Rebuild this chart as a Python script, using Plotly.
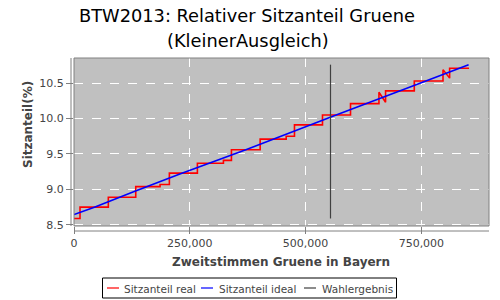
import plotly.graph_objects as go

# Sitzanteil real (step line)
real_x = [0, 13000, 13000, 74100, 74100, 133300, 133300, 185800, 185800, 205900, 205900,
          266400, 266400, 322600, 322600, 339900, 339900, 401900, 401900, 458100, 458100,
          476000, 476000, 536500, 536500, 597000, 597000, 658400, 658400, 672700, 672700,
          734700, 734700, 796700, 796700, 811000, 811000, 852900]
real_y = [8.59, 8.59, 8.75, 8.75, 8.89, 8.89, 9.04, 9.04, 9.07, 9.07, 9.23,
          9.23, 9.37, 9.37, 9.41, 9.41, 9.56, 9.56, 9.71, 9.71, 9.75,
          9.75, 9.91, 9.91, 10.05, 10.05, 10.21, 10.21, 10.37, 10.23, 10.39,
          10.39, 10.53, 10.53, 10.69, 10.57, 10.71, 10.71]

# Sitzanteil ideal
ideal_x = [0, 44000, 130000, 230000, 371000, 430000, 566000, 700000, 800000, 852000]
ideal_y = [8.646, 8.75, 8.97, 9.22, 9.56, 9.71, 10.05, 10.38, 10.63, 10.76]

# Wahlergebnis
wahl_x = [553800, 553800]
wahl_y = [8.59, 10.76]

x_ticks = [0, 250000, 500000, 750000]
y_ticks = [8.5, 9.0, 9.5, 10.0, 10.5]

series_names = ["Sitzanteil real", "Sitzanteil ideal", "Wahlergebnis"]
series_colors = ["#ff0000", "#0000ff", "#404040"]

W, H = 500, 300
L, R, T, B = 74, 11, 58, 74
PW, PH = W - L - R, H - T - B

def px(x):
    return (x - L) / PW

def py(y):
    return (H - B - y) / PH

fig = go.Figure()
fig.add_trace(go.Scatter(x=real_x, y=real_y, mode="lines", name=series_names[0],
                         line=dict(color=series_colors[0], width=1.6)))
fig.add_trace(go.Scatter(x=ideal_x, y=ideal_y, mode="lines", name=series_names[1],
                         line=dict(color=series_colors[1], width=1.6)))
fig.add_trace(go.Scatter(x=wahl_x, y=wahl_y, mode="lines", name=series_names[2],
                         line=dict(color=series_colors[2], width=1.2)))

grid = dict(showgrid=True, gridcolor="#ffffff", griddash="dash", gridwidth=1,
            zeroline=False, showline=False, ticks="outside", ticklen=7,
            tickcolor="#808080", tickfont=dict(family="DejaVu Sans", size=11, color="#444444"))

fig.update_xaxes(range=[0, 896000], tickvals=x_ticks, tickformat=",", **grid)
fig.update_yaxes(range=[8.484, 10.854], tickvals=y_ticks, tickformat=".1f", **grid)

shapes = [
    dict(type="rect", xref="paper", yref="paper", x0=0, x1=1, y0=0, y1=1,
         line=dict(color="#808080", width=1), layer="above"),
    dict(type="line", xref="paper", yref="paper", x0=0, x1=1, y0=-5 / PH, y1=-5 / PH,
         line=dict(color="#808080", width=1)),
    dict(type="line", xref="paper", yref="paper", x0=-3 / PW, x1=-3 / PW, y0=0, y1=1,
         line=dict(color="#808080", width=1)),
    # legend box
    dict(type="rect", xref="paper", yref="paper", x0=px(102.5), x1=px(396.5),
         y0=py(298), y1=py(278), line=dict(color="#000000", width=1),
         fillcolor="#ffffff"),
]

annotations = [
    dict(text="BTW2013: Relativer Sitzanteil Gruene", xref="paper", yref="paper",
         x=px(246.5), y=py(15.5), xanchor="center", yanchor="middle", showarrow=False,
         font=dict(family="DejaVu Sans", size=17.8, color="#000000")),
    dict(text="(KleinerAusgleich)", xref="paper", yref="paper",
         x=px(248), y=py(40.5), xanchor="center", yanchor="middle", showarrow=False,
         font=dict(family="DejaVu Sans", size=17.8, color="#000000")),
    dict(text="<b>Zweitstimmen Gruene in Bayern</b>", xref="paper", yref="paper",
         x=px(280.5), y=py(262), xanchor="center", yanchor="middle", showarrow=False,
         font=dict(family="DejaVu Sans", size=12, color="#444444")),
    dict(text="<b>Sitzanteil(%)</b>", xref="paper", yref="paper", textangle=-90,
         x=px(28), y=py(125), xanchor="center", yanchor="middle", showarrow=False,
         font=dict(family="DejaVu Sans", size=12, color="#444444")),
]

# legend entries (line sample + label)
leg_line_x = [107, 201, 304]
leg_text_x = [122, 216.5, 319.5]
for name, color, lx, tx in zip(series_names, series_colors, leg_line_x, leg_text_x):
    shapes.append(dict(type="line", xref="paper", yref="paper", x0=px(lx), x1=px(lx + 12),
                       y0=py(288), y1=py(288), line=dict(color=color, width=1.2)))
    annotations.append(dict(text=name, xref="paper", yref="paper", x=px(tx), y=py(288.5),
                            xanchor="left", yanchor="middle", showarrow=False,
                            font=dict(family="DejaVu Sans", size=10.5, color="#444444")))

fig.update_layout(
    width=W, height=H,
    margin=dict(l=L, r=R, t=T, b=B, pad=0),
    paper_bgcolor="#ffffff", plot_bgcolor="#c0c0c0",
    shapes=shapes, annotations=annotations,
    showlegend=False,
)

fig.write_html("out.html")
